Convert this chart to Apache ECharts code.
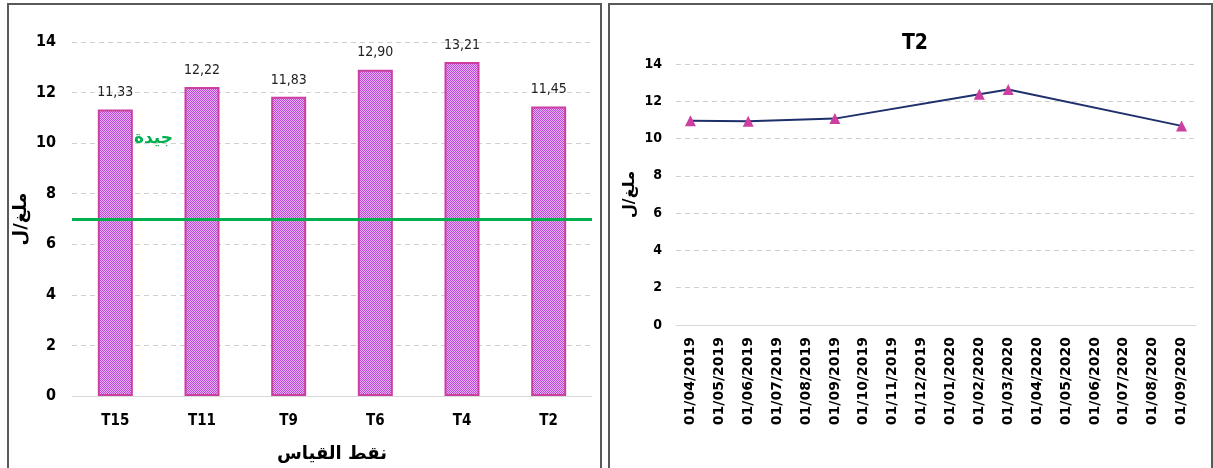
<!DOCTYPE html>
<html>
<head>
<meta charset="utf-8">
<script src="https://cdn.jsdelivr.net/npm/echarts@6/dist/echarts.min.js"></script>
<style>
  html, body { margin: 0; padding: 0; background: #fff; }
  #chart { width: 1213px; height: 468px; }
</style>
</head>
<body>
<div id="chart"></div>
<script>
// left panel: measuring points
var pointNames = ['T15', 'T11', 'T9', 'T6', 'T4', 'T2'];
var pointValues = [11.33, 12.22, 11.83, 12.90, 13.21, 11.45];
var goodLimit = 7;
var leftTicks = [0, 2, 4, 6, 8, 10, 12, 14];

// right panel: T2 over time (empty months have no sample)
var months = ['01/04/2019', '01/05/2019', '01/06/2019', '01/07/2019', '01/08/2019', '01/09/2019',
    '01/10/2019', '01/11/2019', '01/12/2019', '01/01/2020', '01/02/2020', '01/03/2020',
    '01/04/2020', '01/05/2020', '01/06/2020', '01/07/2020', '01/08/2020', '01/09/2020'];
var t2Values = [10.95, null, 10.93, null, null, 11.07,
    null, null, null, null, 12.38, 12.63,
    null, null, null, null, null, 10.68];

var numFont = "'Liberation Sans Narrow', 'DejaVu Sans Condensed', 'Liberation Sans', sans-serif";
var arFont = "'DejaVu Sans', sans-serif";

function barPattern() {
    var c = document.createElement('canvas');
    c.width = 2;
    c.height = 2;
    var ctx = c.getContext('2d');
    ctx.fillStyle = '#e7aef6';
    ctx.fillRect(0, 0, 2, 2);
    ctx.fillStyle = '#b94dda';
    ctx.fillRect(0, 0, 1, 1);
    ctx.fillRect(1, 1, 1, 1);
    return c;
}

var chart = echarts.init(document.getElementById('chart'));
var dashed = { lineStyle: { color: '#d0d0d0', type: [5, 4], width: 1 } };

chart.setOption({
    animation: false,
    title: {
        text: 'T2',
        left: 910,
        top: 28,
        textAlign: 'center',
        textStyle: { fontFamily: numFont, fontSize: 21, fontWeight: 'bold', color: '#000' }
    },
    graphic: [
        { type: 'rect', shape: { x: 8, y: 4, width: 593, height: 480 }, style: { fill: null, stroke: '#595959', lineWidth: 2 }, silent: true },
        { type: 'rect', shape: { x: 609, y: 4, width: 603, height: 480 }, style: { fill: null, stroke: '#595959', lineWidth: 2 }, silent: true },
        { type: 'text', left: 134, top: 130, style: { text: 'جيدة', fontFamily: arFont, fontSize: 17, fontWeight: 'bold', fill: '#00b050' }, silent: true }
    ],
    grid: [
        { left: 72, right: 621, top: 42, bottom: 70 },
        { left: 676, right: 17, top: 64, bottom: 143 }
    ],
    xAxis: [
        {
            gridIndex: 0,
            type: 'category',
            data: pointNames,
            axisTick: { show: false },
            axisLine: { lineStyle: { color: '#d9d9d9' } },
            axisLabel: { margin: 18, color: '#000', fontFamily: numFont, fontSize: 15, fontWeight: 'bold' },
            name: 'نقط القياس',
            nameLocation: 'middle',
            nameGap: 49,
            nameTextStyle: { fontFamily: arFont, fontSize: 18, fontWeight: 'bold', color: '#000' }
        },
        {
            gridIndex: 1,
            type: 'category',
            data: months,
            axisTick: { show: false },
            axisLine: { lineStyle: { color: '#d9d9d9' } },
            axisLabel: { interval: 0, rotate: 90, margin: 12, color: '#000', fontFamily: "'DejaVu Sans', sans-serif", fontSize: 14, fontWeight: 'bold' }
        }
    ],
    yAxis: [
        {
            gridIndex: 0,
            type: 'value',
            min: leftTicks[0],
            max: leftTicks[leftTicks.length - 1],
            interval: 2,
            axisLine: { show: false },
            axisTick: { show: false },
            splitLine: dashed,
            axisLabel: { margin: 16, color: '#000', fontFamily: numFont, fontSize: 16, fontWeight: 'bold' },
            name: 'ملغ/ل',
            nameLocation: 'middle',
            nameGap: 42,
            nameTextStyle: { fontFamily: arFont, fontSize: 18, fontWeight: 'bold', color: '#000' }
        },
        {
            gridIndex: 1,
            type: 'value',
            min: 0,
            max: 14,
            interval: 2,
            axisLine: { show: false },
            axisTick: { show: false },
            splitLine: dashed,
            axisLabel: { margin: 14, color: '#000', fontFamily: numFont, fontSize: 14, fontWeight: 'bold' },
            name: 'ملغ/ل',
            nameLocation: 'middle',
            nameGap: 38,
            nameTextStyle: { fontFamily: arFont, fontSize: 16, fontWeight: 'bold', color: '#000' }
        }
    ],
    series: [
        {
            type: 'bar',
            xAxisIndex: 0,
            yAxisIndex: 0,
            data: pointValues,
            barWidth: 35,
            itemStyle: {
                color: { image: barPattern(), repeat: 'repeat' },
                borderColor: '#cc3fa0',
                borderWidth: 2
            },
            label: {
                show: true,
                position: 'top',
                distance: 10,
                color: '#222',
                fontFamily: numFont,
                fontSize: 14,
                formatter: function (p) {
                    return p.value.toFixed(2).replace('.', ',');
                }
            },
            markLine: {
                silent: true,
                symbol: 'none',
                label: { show: false },
                lineStyle: { color: '#00b050', width: 3, type: 'solid' },
                data: [{ yAxis: goodLimit }]
            }
        },
        {
            type: 'line',
            xAxisIndex: 1,
            yAxisIndex: 1,
            data: t2Values,
            connectNulls: true,
            symbol: 'triangle',
            symbolSize: 11,
            lineStyle: { color: '#1f2f6b', width: 2 },
            itemStyle: { color: '#cc3fa0' }
        }
    ]
});
</script>
</body>
</html>
